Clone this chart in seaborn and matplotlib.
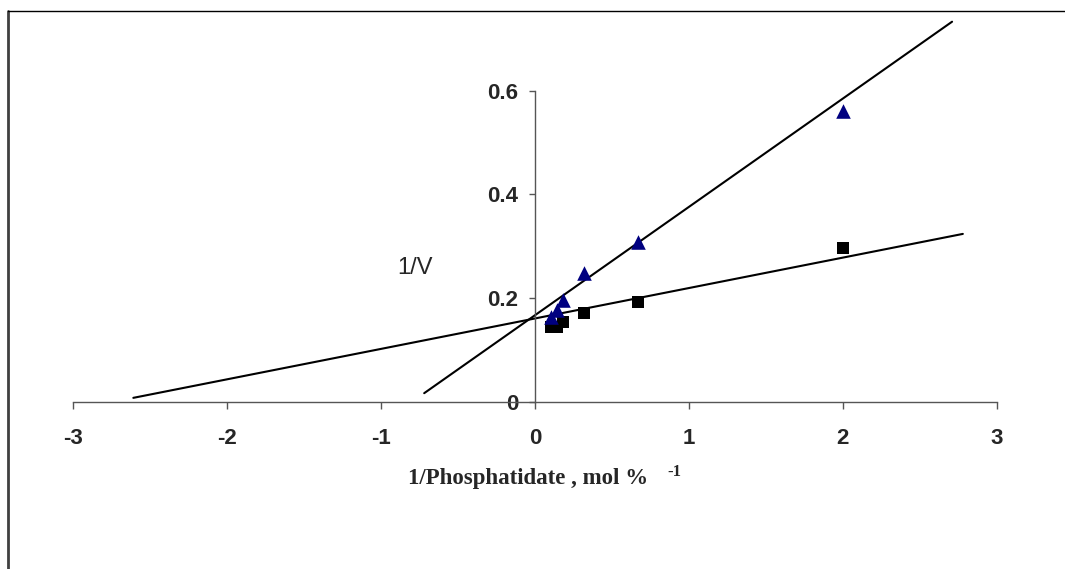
import numpy as np
import pandas as pd
import seaborn as sns
import matplotlib.pyplot as plt
from matplotlib.lines import Line2D

# data
x_inv = [0.105, 0.14, 0.18, 0.32, 0.67, 2.0]
v_tri = [0.164, 0.177, 0.197, 0.248, 0.309, 0.56]
v_sq = [0.145, 0.145, 0.154, 0.171, 0.192, 0.296]

# straight lines (end points, data units)
line_tri_x = [-0.72, 2.71]
line_tri_y = [0.017, 0.733]
line_sq_x = [-2.61, 2.78]
line_sq_y = [0.008, 0.324]

x_ticks = [-3, -2, -1, 0, 1, 2, 3]
y_ticks = [0, 0.2, 0.4, 0.6]
y_ticklabels = ['0', '0.2', '0.4', '0.6']

sns.set_style('white')
plt.rcParams['font.family'] = ['Liberation Sans', 'DejaVu Sans']

fig = plt.figure(figsize=(10.65, 5.69), dpi=100)
ax = fig.add_axes([73.3 / 1065, 167 / 569, 923.4 / 1065, 394.3 / 569])

lines = pd.DataFrame({
    'x': line_tri_x + line_sq_x,
    'y': line_tri_y + line_sq_y,
    'serie': ['tri', 'tri', 'sq', 'sq'],
})
sns.lineplot(data=lines, x='x', y='y', units='serie', estimator=None,
             color='black', linewidth=1.5, ax=ax, clip_on=False)

sns.scatterplot(x=x_inv, y=v_sq, marker='s', color='black', s=75,
                edgecolor='black', linewidth=0, ax=ax, zorder=3)
sns.scatterplot(x=x_inv, y=v_tri, marker='^', color='#000080', s=110,
                edgecolor='#000080', linewidth=0, ax=ax, zorder=3)

ax.set_xlim(-3, 3)
ax.set_ylim(0, 0.76)

# axes crossing at zero
ax.spines['left'].set_position(('data', 0))
ax.spines['left'].set_bounds(0, 0.6)
ax.spines['right'].set_visible(False)
ax.spines['top'].set_visible(False)
for s in ['left', 'bottom']:
    ax.spines[s].set_color('#555555')
    ax.spines[s].set_linewidth(1.0)

ax.set_xticks(x_ticks)
ax.set_xticklabels([str(t) for t in x_ticks], fontsize=16, fontweight='bold')
ax.set_yticks(y_ticks)
ax.set_yticklabels(y_ticklabels, fontsize=16, fontweight='bold')
ax.tick_params(axis='x', direction='out', length=5, width=1, color='#555555', pad=13.5, bottom=True)
ax.tick_params(axis='y', direction='out', length=4, width=1, color='#555555', pad=8, left=True)
ax.set_xlabel('')
ax.set_ylabel('')

ax.text(-0.78, 0.258, '1/V', fontsize=17, ha='center', va='center')

serif = ['Liberation Serif', 'DejaVu Serif']
fig.text(648 / 1065, 1 - 484 / 569, '1/Phosphatidate , mol %',
         family=serif, fontweight='bold', fontsize=16.5, ha='right', va='baseline')
fig.text(667 / 1065, 1 - 476 / 569, '-1',
         family=serif, fontweight='bold', fontsize=12, ha='left', va='baseline')

# chart area border (only top and left visible)
fig.add_artist(Line2D([8 / 1065, 8 / 1065], [0, 1 - 11 / 569], color='#404040', linewidth=2))
fig.add_artist(Line2D([8 / 1065, 1], [1 - 11 / 569, 1 - 11 / 569], color='black', linewidth=1))

plt.savefig('out.png', dpi=100)
plt.close()
